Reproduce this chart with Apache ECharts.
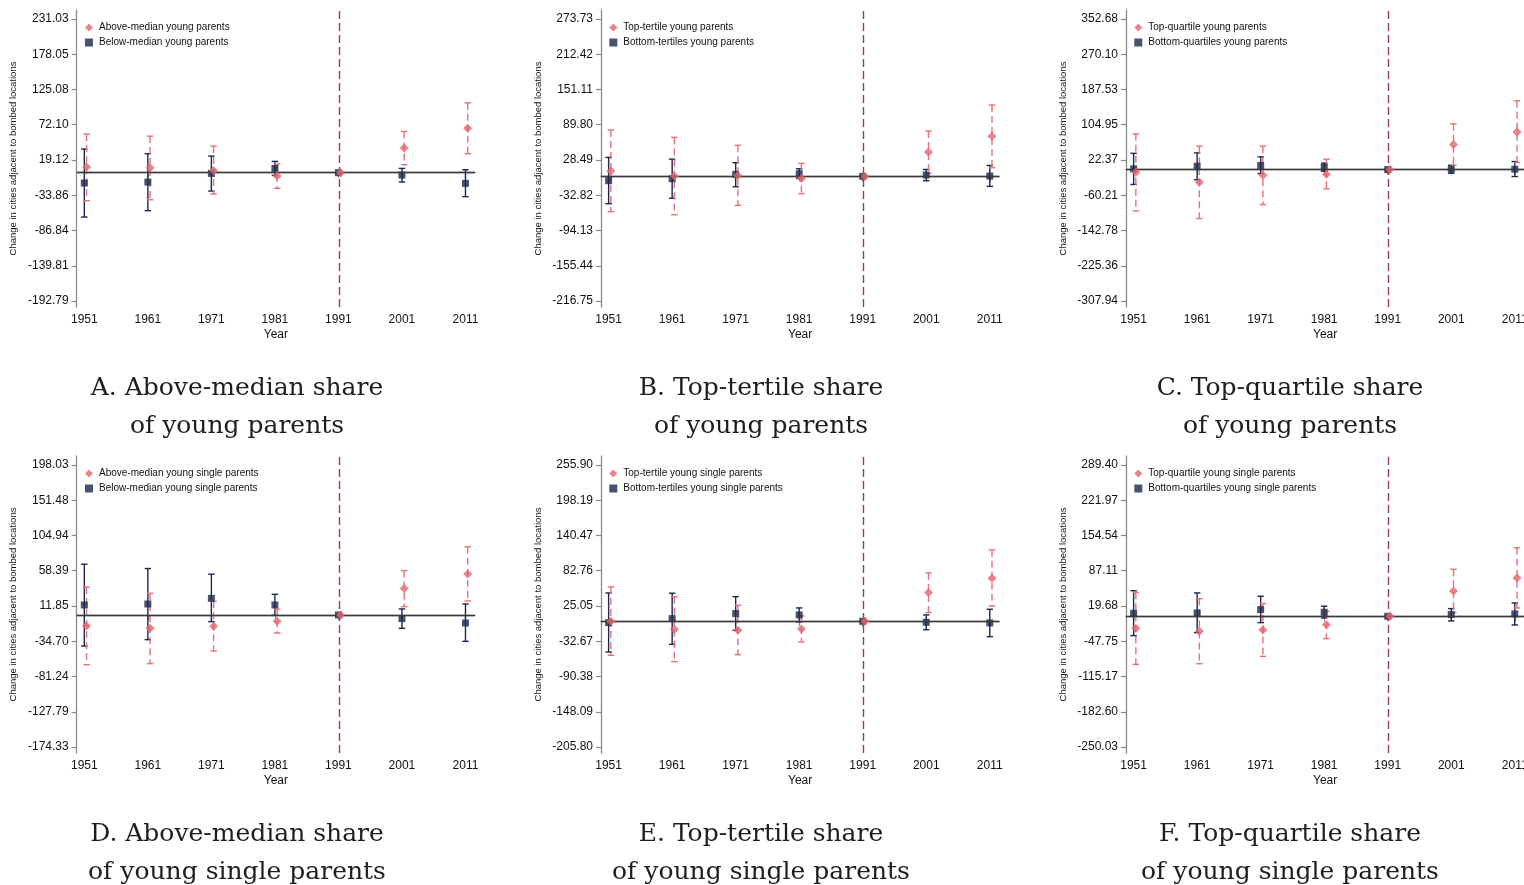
<!DOCTYPE html>
<html>
<head>
<meta charset="utf-8">
<script src="https://cdn.jsdelivr.net/npm/echarts@6/dist/echarts.min.js"></script>
<style>
html,body{margin:0;padding:0;background:#fff;}
#c{width:1524px;height:885px;}
</style>
</head>
<body>
<div id="c"></div>
<script>
// ---------- data ----------
const years = [1951, 1961, 1971, 1981, 1991, 2001, 2011];

// Panel A
const aTicks = [231.03, 178.05, 125.08, 72.10, 19.12, -33.86, -86.84, -139.81, -192.79];
const aHighEst = [8.5, 7.5, 3.5, -5, 0, 37, 67];
const aHighLo  = [-42, -40.6, -32, -23.5, 0, 12, 28.6];
const aHighHi  = [58, 55, 40, 13, 0, 62, 105];
const aLowEst  = [-15.5, -14, -1, 6.5, 0, -3.5, -16];
const aLowLo   = [-66.6, -57, -27.6, -4, 0, -14, -36];
const aLowHi   = [35.6, 28.6, 25, 17, 0, 6.5, 4.5];

// Panel B
const bTicks = [273.73, 212.42, 151.11, 89.80, 28.49, -32.82, -94.13, -155.44, -216.75];
const bHighEst = [9.3, 0.6, 1.7, -3.5, 0, 42.3, 69.6];
const bHighLo  = [-61.5, -66.7, -50.4, -30, 0, 5.2, 15];
const bHighHi  = [80.6, 67.8, 54, 22.6, 0, 78.9, 124];
const bLowEst  = [-7.5, -4, 3.5, 4.6, 0, 2.3, 0.6];
const bLowLo   = [-47.5, -38, -18, -3.5, 0, -7.5, -17.4];
const bLowHi   = [33, 30, 23.8, 13.3, 0, 12, 19];

// Panel C
const cTicks = [352.68, 270.10, 187.53, 104.95, 22.37, -60.21, -142.78, -225.36, -307.94];
const cHighEst = [-6.2, -29.7, -13.3, -11, 0, 58.6, 88];
const cHighLo  = [-96.8, -114.8, -82, -45.3, 0, 10, 16.4];
const cHighHi  = [83.6, 54.7, 54.7, 24.2, 0, 107, 161];
const cLowEst  = [1.6, 7.8, 9.4, 5.5, 0, 0.8, 0.8];
const cLowLo   = [-35, -24, -9.4, -4, 0, -8.6, -16.4];
const cLowHi   = [38, 39, 29.7, 15, 0, 10, 18.7];

// Panel D
const dTicks = [198.03, 151.48, 104.94, 58.39, 11.85, -34.70, -81.24, -127.79, -174.33];
const dHighEst = [-14.5, -17.6, -15, -8.4, 0, 34.8, 54.2];
const dHighLo  = [-65.7, -64.3, -47.6, -23.8, 0, 11, 18.5];
const dHighHi  = [37, 28.6, 18, 7.5, 0, 58.6, 90];
const dLowEst  = [13.2, 14.5, 22, 13.2, 0, -4.8, -10.6];
const dLowLo   = [-41, -32.6, -8.8, -0.4, 0, -17.6, -34.8];
const dLowHi   = [67, 61.3, 53.8, 27.3, 0, 8, 14.5];

// Panel E
const eTicks = [255.90, 198.19, 140.47, 82.76, 25.05, -32.67, -90.38, -148.09, -205.80];
const eHighEst = [0, -13, -14.8, -12.6, 0, 47, 70.5];
const eHighLo  = [-55.7, -66, -54.6, -33.9, 0, 14.2, 25];
const eHighHi  = [56.3, 40, 26.2, 8.7, 0, 79.2, 117];
const eLowEst  = [-2.2, 4.4, 12.6, 10.4, 0, -1.6, -2.7];
const eLowLo   = [-50.3, -37.7, -14.8, -1.1, 0, -13.7, -25.1];
const eLowHi   = [46.4, 46, 40.4, 21.9, 0, 10.4, 19.7];

// Panel F
const fTicks = [289.40, 221.97, 154.54, 87.11, 19.68, -47.75, -115.17, -182.60, -250.03];
const fHighEst = [-23, -28.7, -26.2, -16, 0, 48.5, 73.4];
const fHighLo  = [-92, -90.7, -76.6, -42.8, 0, 7, 16];
const fHighHi  = [46, 33.8, 24.3, 9.6, 0, 90, 131];
const fLowEst  = [5.7, 6.4, 12.8, 7.7, 0, 3.2, 4.5];
const fLowLo   = [-37, -31.3, -12.1, -3.2, 0, -8.9, -16.6];
const fLowHi   = [49, 44.7, 38.3, 19.2, 0, 14.7, 25.5];

const highNames = ['Above-median young parents', 'Top-tertile young parents', 'Top-quartile young parents',
                   'Above-median young single parents', 'Top-tertile young single parents', 'Top-quartile young single parents'];
const lowNames  = ['Below-median young parents', 'Bottom-tertiles young parents', 'Bottom-quartiles young parents',
                   'Below-median young single parents', 'Bottom-tertiles young single parents', 'Bottom-quartiles young single parents'];
const captions = ['A. Above-median share\nof young parents', 'B. Top-tertile share\nof young parents', 'C. Top-quartile share\nof young parents',
                  'D. Above-median share\nof young single parents', 'E. Top-tertile share\nof young single parents', 'F. Top-quartile share\nof young single parents'];
const yTitle = 'Change in cities adjacent to bombed locations';
const xTitle = 'Year';
const treatYear = 1991;

// ---------- build ----------
const panels = [
  [aTicks, aHighEst, aHighLo, aHighHi, aLowEst, aLowLo, aLowHi],
  [bTicks, bHighEst, bHighLo, bHighHi, bLowEst, bLowLo, bLowHi],
  [cTicks, cHighEst, cHighLo, cHighHi, cLowEst, cLowLo, cLowHi],
  [dTicks, dHighEst, dHighLo, dHighHi, dLowEst, dLowLo, dLowHi],
  [eTicks, eHighEst, eHighLo, eHighHi, eLowEst, eLowLo, eLowHi],
  [fTicks, fHighEst, fHighLo, fHighHi, fLowEst, fLowLo, fLowHi]
];

const RED = '#e5646e', REDCI = '#e8707a', NAVY = '#1b284d', VLINE = '#a03c4a', AXIS = '#8a8a8a';
const FONT = '"Liberation Sans", Arial, Helvetica, sans-serif';
const colX = [0, 524.3, 1049.3];
const rowY = [0, 446];
const RED_OFF = 0.35, NAVY_OFF = 0;

function ciRender(color, dashed, halfCap) {
  return function (params, api) {
    const x = api.value(0), lo = api.value(1), hi = api.value(2);
    const pLo = api.coord([x, lo]), pHi = api.coord([x, hi]);
    const lineStyle = { stroke: color, lineWidth: 1.4, lineDash: dashed ? [7, 4] : null };
    const capStyle = { stroke: color, lineWidth: 1.4 };
    return {
      type: 'group',
      children: [
        { type: 'line', shape: { x1: pHi[0], y1: pHi[1], x2: pLo[0], y2: pLo[1] }, style: lineStyle },
        { type: 'line', shape: { x1: pHi[0] - halfCap, y1: pHi[1], x2: pHi[0] + halfCap, y2: pHi[1] }, style: capStyle },
        { type: 'line', shape: { x1: pLo[0] - halfCap, y1: pLo[1], x2: pLo[0] + halfCap, y2: pLo[1] }, style: capStyle }
      ]
    };
  };
}

const grid = [], xAxis = [], yAxis = [], series = [], legend = [], graphic = [];

panels.forEach(function (p, i) {
  const [ticks, hEst, hLo, hHi, lEst, lLo, lHi] = p;
  const c = i % 3, r = Math.floor(i / 3);
  const ox = colX[c], oy = rowY[r];
  const step = (ticks[0] - ticks[ticks.length - 1]) / (ticks.length - 1);
  grid.push({ left: ox + 76.7, top: oy + 10, width: 398.3, height: 297, outerBoundsMode: 'none', containLabel: false });
  xAxis.push({
    gridIndex: i, type: 'value', min: 1949.8, max: 2012.5,
    name: xTitle, nameLocation: 'middle', nameGap: 22,
    nameTextStyle: { fontFamily: FONT, fontSize: 12, color: '#111' },
    axisLine: { show: true, lineStyle: { color: AXIS, width: 1.3 } },
    axisTick: { show: true, length: 5, lineStyle: { color: AXIS, width: 1.2 }, customValues: years },
    axisLabel: { customValues: years, fontFamily: FONT, fontSize: 12, color: '#111', margin: 7, hideOverlap: false, formatter: v => String(Math.round(v)) },
    splitLine: { show: false }
  });
  yAxis.push({
    gridIndex: i, type: 'value',
    min: ticks[ticks.length - 1] - 0.17 * step, max: ticks[0] + 0.255 * step,
    name: yTitle, nameLocation: 'middle', nameGap: 58, nameRotate: 90,
    nameTextStyle: { fontFamily: FONT, fontSize: 9.5, color: '#111' },
    axisLine: { show: true, lineStyle: { color: AXIS, width: 1.3 } },
    axisTick: { show: true, length: 5, lineStyle: { color: AXIS, width: 1.2 }, customValues: ticks },
    axisLabel: { customValues: ticks, fontFamily: FONT, fontSize: 12, color: '#111', margin: 8, formatter: v => v.toFixed(2) },
    splitLine: { show: false }
  });

  // CI series
  series.push({
    type: 'custom', xAxisIndex: i, yAxisIndex: i, name: 'ciLow' + i, z: 2,
    renderItem: ciRender(NAVY, false, 3.2),
    encode: { x: 0, y: [1, 2] },
    data: years.map((y, k) => [y + NAVY_OFF, lLo[k], lHi[k]]),
    silent: true,
    markLine: {
      silent: true, symbol: 'none', label: { show: false }, animation: false,
      data: [
        { yAxis: 0, lineStyle: { color: '#3a3a3a', width: 1.3, type: 'solid' } },
        { xAxis: treatYear + 0.1, lineStyle: { color: VLINE, width: 1.4, type: [8, 4] } }
      ]
    }
  });
  series.push({
    type: 'custom', xAxisIndex: i, yAxisIndex: i, name: 'ciHigh' + i, z: 3,
    renderItem: ciRender(REDCI, true, 3.2),
    encode: { x: 0, y: [1, 2] },
    data: years.map((y, k) => [y + RED_OFF, hLo[k], hHi[k]]),
    silent: true
  });
  series.push({
    type: 'scatter', xAxisIndex: i, yAxisIndex: i, name: lowNames[i], z: 4,
    symbol: 'rect', symbolSize: 7, itemStyle: { color: NAVY },
    data: years.map((y, k) => [y + NAVY_OFF, lEst[k]])
  });
  series.push({
    type: 'scatter', xAxisIndex: i, yAxisIndex: i, name: highNames[i], z: 5,
    symbol: 'diamond', symbolSize: 9, itemStyle: { color: RED },
    data: years.map((y, k) => [y + RED_OFF, hEst[k]])
  });

  legend.push({
    orient: 'vertical', left: ox + 85, top: oy + 22.5, padding: 0,
    itemWidth: 8, itemHeight: 8, itemGap: 5, selectedMode: false,
    textStyle: { fontFamily: FONT, fontSize: 10, color: '#111', padding: [0, 0, 0, 1] },
    data: [{ name: highNames[i], icon: 'diamond', itemStyle: { color: RED } },
           { name: lowNames[i], icon: 'rect', itemStyle: { color: NAVY } }]
  });

  const capCenter = [237, 761, 1290][c];
  graphic.push({
    type: 'text', x: capCenter, y: oy + 407,
    style: {
      text: captions[i], textAlign: 'center', textVerticalAlign: 'middle',
      font: '25px "DejaVu Serif", "Liberation Serif", serif', fill: '#1e1e1e', lineHeight: 38
    }
  });
});

const chart = echarts.init(document.getElementById('c'), null, { renderer: 'canvas' });
chart.setOption({
  animation: false,
  backgroundColor: '#ffffff',
  grid: grid, xAxis: xAxis, yAxis: yAxis, series: series, legend: legend, graphic: graphic
});
</script>
</body>
</html>
